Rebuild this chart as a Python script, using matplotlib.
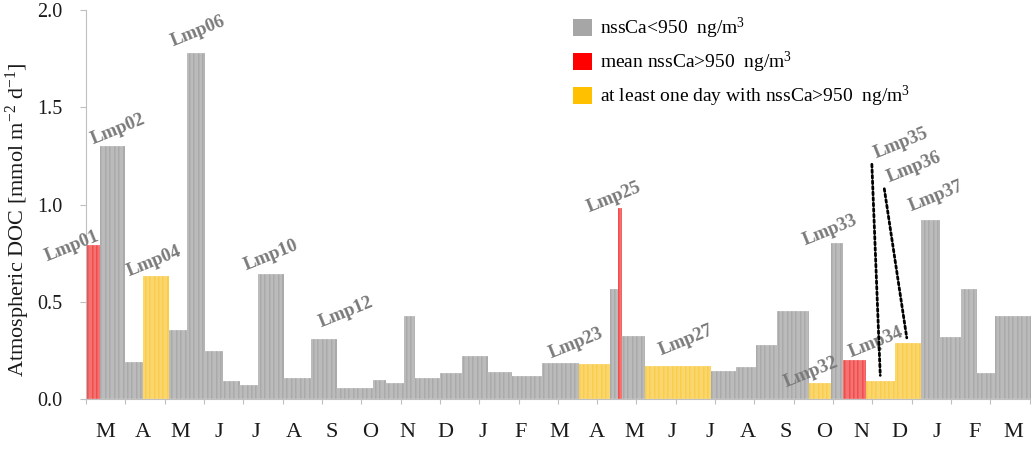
import matplotlib.pyplot as plt
from matplotlib.patches import Patch

# Sampling periods: start day counted from 1 March of the first year
period_start = [0, 11, 30, 44, 64, 78, 92, 106, 119, 133, 153, 174, 194, 222,
                232, 246, 255, 274, 291, 311, 330, 353, 382, 406, 412, 415,
                433, 484, 503, 519, 535, 560, 577, 586, 604, 626, 646, 661,
                677, 690, 704]
period_end = 750

# Atmospheric DOC flux of each sample (Lmp01 ... Lmp41), mmol m-2 d-1
doc_flux = [0.79, 1.30, 0.19, 0.63, 0.355, 1.78, 0.245, 0.095, 0.072, 0.645,
            0.108, 0.31, 0.058, 0.098, 0.084, 0.427, 0.106, 0.132, 0.223, 0.14,
            0.118, 0.183, 0.178, 0.566, 0.98, 0.324, 0.17, 0.144, 0.166, 0.278,
            0.454, 0.081, 0.80, 0.20, 0.093, 0.286, 0.92, 0.317, 0.567, 0.135,
            0.427]

# nssCa class: low = <950, mean = mean >950, day = at least one day >950
nssca_class = ['mean', 'low', 'low', 'day', 'low', 'low', 'low', 'low', 'low',
               'low', 'low', 'low', 'low', 'low', 'low', 'low', 'low', 'low',
               'low', 'low', 'low', 'low', 'day', 'low', 'mean', 'low', 'day',
               'low', 'low', 'low', 'low', 'day', 'low', 'mean', 'day', 'day',
               'low', 'low', 'low', 'low', 'low']

month_letters = ['M', 'A', 'M', 'J', 'J', 'A', 'S', 'O', 'N', 'D', 'J', 'F',
                 'M', 'A', 'M', 'J', 'J', 'A', 'S', 'O', 'N', 'D', 'J', 'F', 'M']

legend_labels = ['nssCa<950  ng/m$^3$',
                 'mean nssCa>950  ng/m$^3$',
                 'at least one day with nssCa>950  ng/m$^3$']

# label placement (pixel offset of label centre from bar top centre)
label_offsets = {1: (-21, -1), 2: (6, 17), 4: (-2, 15), 6: (2, 21),
                 10: (0, 18), 12: (22, 26), 23: (-19, 21), 25: (-6, 11),
                 27: (8, 26), 32: (-9, 11), 33: (-7, 13), 34: (21, 18),
                 35: (21, 238), 36: (6, 176), 37: (6, 24)}
leader_lines = [35, 36]

bar_colors = {'low': '#a0a0a0', 'mean': '#f03838', 'day': '#f9c634'}
legend_colors = {'low': '#a6a6a6', 'mean': '#ff0000', 'day': '#ffc000'}

plt.rcParams['font.family'] = 'Liberation Serif'
plt.rcParams['mathtext.default'] = 'regular'

month_len = 365.25 / 12
# month letters sit on their own even spacing, a bit tighter than the ticks
letter_first = 14.7
letter_step = 29.28

fig = plt.figure(figsize=(10.31, 4.5), dpi=100)
ax = fig.add_axes([86 / 1031, 51 / 450, 983 / 1031, 389 / 450])

# each period is drawn day by day, like the daily columns of the original sheet
ends = period_start[1:] + [period_end]
x_days, h_days, c_days = [], [], []
for s, e, v, c in zip(period_start, ends, doc_flux, nssca_class):
    for d in range(s, e):
        x_days.append(d)
        h_days.append(v)
        c_days.append(bar_colors[c])
ax.bar(x_days, h_days, width=1, align='edge', color=c_days,
       edgecolor='white', linewidth=0.15)

for k, (dx, dy) in label_offsets.items():
    i = k - 1
    xc = (period_start[i] + ends[i]) / 2
    props = None
    if k in leader_lines:
        props = dict(arrowstyle='-', linestyle=(0, (1, 1)), lw=2.0,
                     color='black', relpos=(0, 0), shrinkA=0, shrinkB=4)
    ax.annotate(f'Lmp{k:02d}', xy=(xc, doc_flux[i]), xytext=(dx, dy),
                textcoords='offset pixels', ha='center', va='center',
                rotation=22, rotation_mode='anchor', fontsize=13.5,
                fontweight='bold', color='#7a7a7a', arrowprops=props)

ax.set_xlim(0, 25 * month_len)
ax.set_ylim(0, 2.0)
ax.set_yticks([0, 0.5, 1.0, 1.5, 2.0])
ax.set_yticklabels([f'{t:.1f}' for t in [0, 0.5, 1.0, 1.5, 2.0]])

ax.set_xticks([k * month_len for k in range(26)])
ax.set_xticklabels([])
ax.set_xticks([letter_first + k * letter_step for k in range(25)], minor=True)
ax.set_xticklabels(month_letters, minor=True)

ax.tick_params(axis='x', which='major', length=3.6, width=0.8, color='#bfbfbf')
ax.tick_params(axis='x', which='minor', length=0, pad=17, labelsize=16,
               labelcolor='#1a1a1a')
ax.tick_params(axis='y', length=4.3, width=0.8, color='#bfbfbf', pad=12.7,
               labelsize=14.5, labelcolor='#1a1a1a')

for side in ['top', 'right']:
    ax.spines[side].set_visible(False)
for side in ['left', 'bottom']:
    ax.spines[side].set_color('#bfbfbf')
    ax.spines[side].set_linewidth(0.8)

ax.set_ylabel(r'Atmospheric DOC [mmol m$^{-2}$ d$^{-1}$]', fontsize=16,
              color='#1a1a1a')
ax.yaxis.set_label_coords(-0.055, 0.46)

handles = [Patch(facecolor=legend_colors[c]) for c in ['low', 'mean', 'day']]
fig.legend(handles, legend_labels, loc='upper left',
           bbox_to_anchor=(573 / 1031, 1 - 16 / 450), frameon=False,
           fontsize=14, handlelength=1.0, handleheight=0.95,
           handletextpad=0.4, labelspacing=0.45, borderpad=0,
           borderaxespad=0)

fig.savefig('out.png', dpi=100)
